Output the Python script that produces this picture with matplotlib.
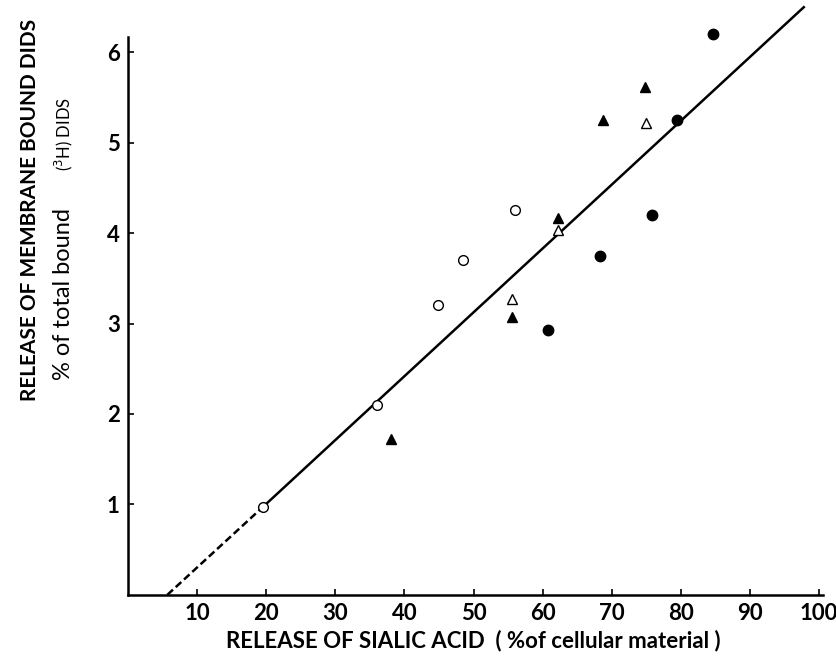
import matplotlib
matplotlib.use('Agg')
import matplotlib.pyplot as plt

# values (x = sialic acid released %, y = DIDS released %)
open_circle_x = [19.5, 36.0, 44.8, 48.5, 56.0]
open_circle_y = [0.97, 2.10, 3.20, 3.70, 4.26]

filled_tri_x = [38.0, 55.6, 62.2, 68.8, 74.8]
filled_tri_y = [1.72, 3.07, 4.17, 5.25, 5.62]

open_tri_x = [55.6, 62.2, 74.9]
open_tri_y = [3.27, 4.03, 5.22]

filled_circle_x = [60.8, 68.3, 75.8, 79.5, 84.6]
filled_circle_y = [2.93, 3.75, 4.20, 5.25, 6.20]

# regression line: dashed extrapolation, then solid part
fit_dash_x = [5.7, 19.5]
fit_dash_y = [0.0, 0.97]
fit_solid_x = [19.5, 97.8]
fit_solid_y = [0.97, 6.50]

x_ticks = [10, 20, 30, 40, 50, 60, 70, 80, 90, 100]
y_ticks = [1, 2, 3, 4, 5, 6]

plt.rcParams['font.family'] = ['Lato', 'DejaVu Sans']

fig = plt.figure(figsize=(8.37, 6.69), dpi=100)
ax = fig.add_axes([0.153, 0.111, 0.842, 0.885])

ax.plot(fit_dash_x, fit_dash_y, color='black', lw=1.8, ls=(0, (3, 1.5)))
ax.plot(fit_solid_x, fit_solid_y, color='black', lw=1.8)

ms = 7
ax.plot(open_circle_x, open_circle_y, 'o', ms=ms, mfc='white', mec='black', mew=1.0, ls='none', zorder=3)
ax.plot(filled_circle_x, filled_circle_y, 'o', ms=ms + 0.5, color='black', ls='none', zorder=3)
ax.plot(filled_tri_x, filled_tri_y, '^', ms=ms, color='black', ls='none', zorder=3)
ax.plot(open_tri_x, open_tri_y, '^', ms=ms, mfc='white', mec='black', mew=1.0, ls='none', zorder=3)

ax.set_xlim(0, 102)
ax.set_ylim(0, 6.55)

for side in ['top', 'right']:
    ax.spines[side].set_visible(False)
for side in ['left', 'bottom']:
    ax.spines[side].set_linewidth(1.8)
ax.spines['left'].set_bounds(0, 6.17)
ax.spines['bottom'].set_bounds(0, 100.6)

ax.set_xticks(x_ticks)
ax.set_yticks(y_ticks)
ax.tick_params(direction='in', length=4, width=1.2, labelsize=16, pad=6)
for lbl in ax.get_xticklabels() + ax.get_yticklabels():
    lbl.set_fontweight('bold')

fig.text(0.036, 0.686, 'RELEASE OF MEMBRANE BOUND DIDS', rotation=90,
         ha='center', va='center', fontsize=15, fontweight='bold')
fig.text(0.076, 0.56, '% of total bound', rotation=90,
         ha='center', va='center', fontsize=17)
fig.text(0.076, 0.80, r'($^3$H) DIDS', rotation=90,
         ha='center', va='center', fontsize=12)
fig.text(0.566, 0.043, 'RELEASE OF SIALIC ACID  ( %of cellular material )',
         ha='center', va='center', fontsize=16, fontweight='bold')

fig.savefig('out.png', dpi=100)
